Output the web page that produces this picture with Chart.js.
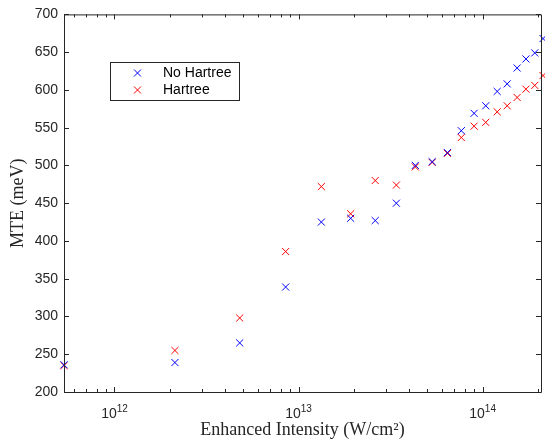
<!DOCTYPE html>
<html>
<head>
<meta charset="utf-8">
<script src="https://cdn.jsdelivr.net/npm/chart.js@4/dist/chart.umd.min.js"></script>
<style>
html, body { margin: 0; padding: 0; background: #fff; overflow: hidden; }
#wrap { width: 547px; height: 443px; }
</style>
</head>
<body>
<div id="wrap"><canvas id="mteChart" width="547" height="443"></canvas></div>
<script>
// values
var intensity = [5.32e11, 2.13e12, 4.79e12, 8.51e12, 1.33e13, 1.92e13, 2.61e13, 3.40e13, 4.31e13, 5.32e13,
    6.44e13, 7.66e13, 8.99e13, 1.04e14, 1.20e14, 1.36e14, 1.54e14, 1.72e14, 1.92e14, 2.13e14]
var noHartree = [236, 239, 265, 339, 425, 430, 427, 450, 500, 505, 517, 546, 569, 579, 598, 608, 629, 641, 649, 668]
var hartree = [235, 255, 298, 386, 472, 436, 480, 474, 498, 504, 516, 537, 552, 557, 571, 579, 590, 601, 606, 619]
var seriesNames = ['No Hartree', 'Hartree']
var seriesColors = ['#0000ff', '#ff0000']
var xTickValues = [1e12, 1e13, 1e14]
var xTickLabels = [['10', '12'], ['10', '13'], ['10', '14']]
var xTitle = 'Enhanced Intensity (W/cm\u00b2)'
var yTitle = 'MTE (meV)'

var axisColor = '#262626'
var sansFont = '"Liberation Sans", Arial, sans-serif'
var serifFont = '"Liberation Serif", "Times New Roman", serif'

function toPoints(ys) {
    var pts = []
    for (var i = 0; i < intensity.length; i++) {
        pts.push({ x: intensity[i], y: ys[i] })
    }
    return pts
}

function markerDataset(label, ys, color) {
    return {
        label: label,
        data: toPoints(ys),
        showLine: false,
        pointStyle: 'crossRot',
        pointRadius: 5,
        pointHoverRadius: 5,
        pointBorderWidth: 1,
        borderColor: color,
        backgroundColor: color,
        clip: false
    }
}

// small x marker for the legend
function drawCross(ctx, x, y, color) {
    var r = 3.5
    ctx.save()
    ctx.strokeStyle = color
    ctx.lineWidth = 1
    ctx.beginPath()
    ctx.moveTo(x - r, y - r); ctx.lineTo(x + r, y + r)
    ctx.moveTo(x - r, y + r); ctx.lineTo(x + r, y - r)
    ctx.stroke()
    ctx.restore()
}

// matlab style box with inward ticks, superscript decade labels and legend
var matlabAxes = {
    id: 'matlabAxes',
    afterDatasetsDraw: function (chart) {
        var ctx = chart.ctx
        var a = chart.chartArea
        var xs = chart.scales.x
        var ys = chart.scales.y
        ctx.save()
        ctx.strokeStyle = axisColor
        ctx.lineWidth = 1
        ctx.beginPath()
        ctx.rect(a.left + 0.5, a.top + 0.5, a.right - a.left, a.bottom - a.top)
        ys.ticks.forEach(function (t) {
            var py = Math.round(ys.getPixelForValue(t.value)) + 0.5
            ctx.moveTo(a.left, py); ctx.lineTo(a.left + 5, py)
            ctx.moveTo(a.right, py); ctx.lineTo(a.right - 5, py)
        })
        for (var e = 11; e <= 14; e++) {
            for (var m = 1; m <= 9; m++) {
                var v = m * Math.pow(10, e)
                if (v < xs.min || v > xs.max) continue
                var px = Math.round(xs.getPixelForValue(v)) + 0.5
                var len = m == 1 ? 5 : 3
                ctx.moveTo(px, a.bottom); ctx.lineTo(px, a.bottom - len)
                ctx.moveTo(px, a.top); ctx.lineTo(px, a.top + len)
            }
        }
        ctx.stroke()

        // decade labels with superscripts
        ctx.fillStyle = axisColor
        ctx.textBaseline = 'alphabetic'
        ctx.textAlign = 'left'
        for (var i = 0; i < xTickValues.length; i++) {
            var cx = xs.getPixelForValue(xTickValues[i])
            ctx.font = '14px ' + sansFont
            var wb = ctx.measureText(xTickLabels[i][0]).width
            ctx.font = '10px ' + sansFont
            var we = ctx.measureText(xTickLabels[i][1]).width
            var sx = cx - (wb + we) / 2
            ctx.font = '14px ' + sansFont
            ctx.fillText(xTickLabels[i][0], sx, a.bottom + 26)
            ctx.font = '10px ' + sansFont
            ctx.fillText(xTickLabels[i][1], sx + wb, a.bottom + 19.5)
        }
        ctx.restore()
    },
    afterDraw: function (chart) {
        var ctx = chart.ctx
        var lx = 110, ly = 62, lw = 129, lh = 38
        var rows = [73, 90]
        ctx.save()
        ctx.fillStyle = '#ffffff'
        ctx.fillRect(lx, ly, lw, lh)
        ctx.strokeStyle = axisColor
        ctx.lineWidth = 1
        ctx.strokeRect(lx + 0.5, ly + 0.5, lw, lh)
        for (var i = 0; i < seriesNames.length; i++) {
            drawCross(ctx, lx + 27.5, rows[i], seriesColors[i])
            ctx.fillStyle = '#000000'
            ctx.font = '14px ' + sansFont
            ctx.textBaseline = 'middle'
            ctx.textAlign = 'left'
            ctx.fillText(seriesNames[i], lx + 53, rows[i])
        }
        ctx.restore()
    }
}

var chart = new Chart(document.getElementById('mteChart'), {
    type: 'scatter',
    data: {
        datasets: [
            markerDataset(seriesNames[0], noHartree, seriesColors[0]),
            markerDataset(seriesNames[1], hartree, seriesColors[1])
        ]
    },
    options: {
        responsive: false,
        animation: false,
        devicePixelRatio: 1,
        layout: { padding: { top: 10, right: 1, bottom: 0, left: 0 } },
        plugins: {
            legend: { display: false },
            tooltip: { enabled: false }
        },
        scales: {
            x: {
                type: 'logarithmic',
                min: 5.318e11,
                max: 2.076e14,
                ticks: { display: false },
                grid: { display: false, drawTicks: false },
                border: { display: false },
                title: {
                    display: true,
                    text: xTitle,
                    color: axisColor,
                    font: { family: serifFont, size: 18 },
                    padding: { top: 2, bottom: 2 }
                },
                afterFit: function (s) { s.height = 51 }
            },
            y: {
                min: 200,
                max: 700,
                ticks: {
                    stepSize: 50,
                    padding: 6,
                    color: axisColor,
                    font: { family: sansFont, size: 14 }
                },
                grid: { display: false, drawTicks: false },
                border: { display: false },
                title: {
                    display: true,
                    text: yTitle,
                    color: axisColor,
                    font: { family: serifFont, size: 18 },
                    padding: { top: 7, bottom: 7 }
                },
                afterFit: function (s) { s.width = 64 }
            }
        }
    },
    plugins: [matlabAxes]
})
</script>
</body>
</html>
